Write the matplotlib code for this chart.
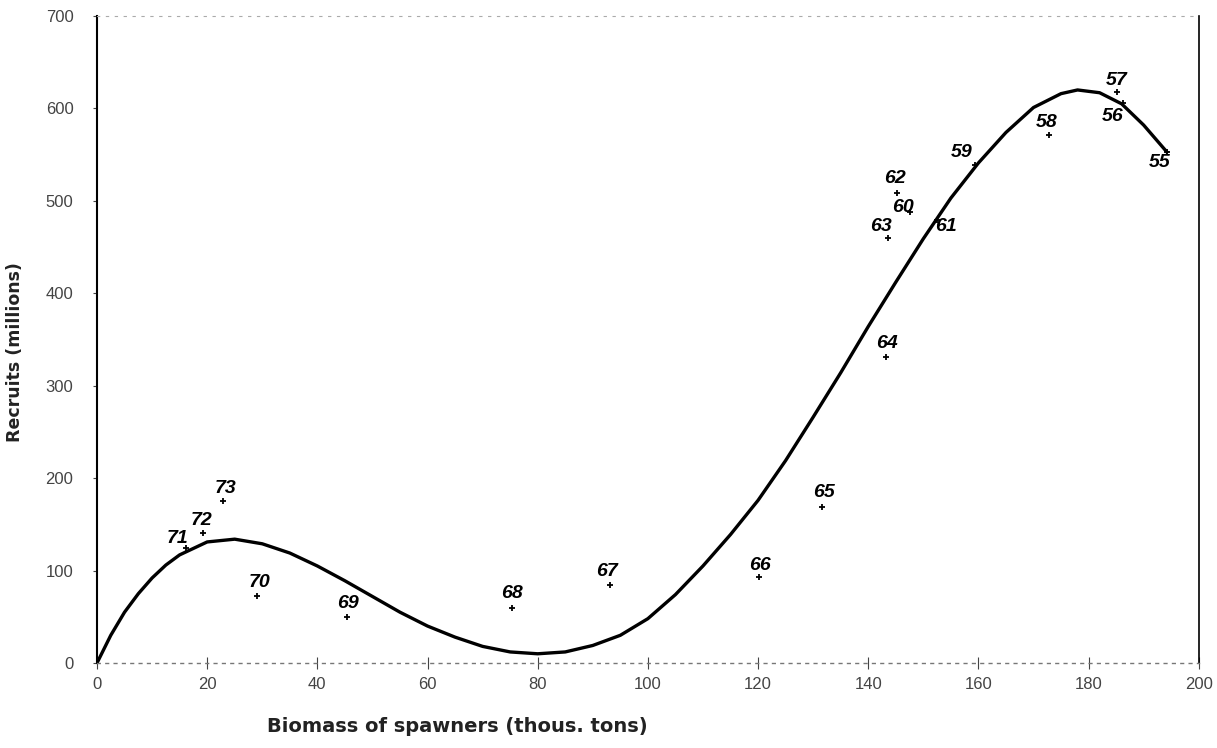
import matplotlib
matplotlib.use('Agg')
import matplotlib.pyplot as plt
import numpy as np

plt.rcParams['font.family'] = ['Liberation Sans', 'DejaVu Sans']

# 观测点：年份、亲体生物量、补充量
years = ['55', '56', '57', '58', '59', '60', '61', '62', '63', '64',
         '65', '66', '67', '68', '69', '70', '71', '72', '73']
biomass = [194.2, 186.2, 185.1, 172.8, 159.3, 147.5, 152.4, 145.2, 143.5, 143.2,
           131.6, 120.1, 93.1, 75.3, 45.4, 29.0, 16.2, 19.2, 22.9]
recruits = [553, 606, 618, 571, 539, 488, 479, 509, 460, 331,
            169, 93, 84, 60, 50, 73, 124, 141, 175]

# 手绘拟合曲线
curve_x = [0, 2.5, 5, 7.5, 10, 12.5, 15, 20, 25, 30, 35, 40, 45, 50, 55, 60, 65, 70, 75, 80,
           85, 90, 95, 100, 105, 110, 115, 120, 125, 130, 135, 140, 145, 150, 155, 160,
           165, 170, 175, 178, 182, 186, 190, 194.2]
curve_y = [0, 30, 55, 75, 92, 106, 117, 131, 134, 129, 119, 105, 89, 72, 55, 40, 28, 18, 12, 10,
           12, 19, 30, 48, 74, 105, 139, 176, 219, 266, 314, 364, 412, 459, 503, 541,
           574, 601, 616, 620, 617, 605, 582, 553]

# 年份标签相对点的偏移（像素）
label_offsets = {'55': (-7, -11), '56': (-10, -14), '57': (0, 11), '58': (-2, 13),
                 '59': (-13, 12), '60': (-7, 4), '61': (9, -6), '62': (-2, 14),
                 '63': (-7, 11), '64': (1, 14), '65': (2, 14), '66': (1, 12),
                 '67': (-3, 14), '68': (0, 14), '69': (1, 13), '70': (3, 13),
                 '71': (-9, 10), '72': (-1, 12), '73': (2, 13)}

fig = plt.figure(figsize=(12.17, 7.48), dpi=100)
ax = fig.add_axes([0.0797, 0.1136, 0.9053, 0.865])

ax.plot(curve_x, curve_y, color='black', linewidth=2.4, solid_joinstyle='round')
ax.scatter(biomass, recruits, marker='+', s=22, color='black', linewidths=1.3, zorder=3)

for yr, bx, ry in zip(years, biomass, recruits):
    dx, dy = label_offsets[yr]
    ax.annotate(yr, (bx, ry), xytext=(dx * 0.72, dy * 0.72), textcoords='offset points',
                ha='center', va='center', fontsize=14, style='italic', fontweight='bold',
                color='black')

ax.set_xlim(0, 200)
ax.set_ylim(0, 700)
ax.set_xticks(np.arange(0, 201, 20))
ax.set_yticks(np.arange(0, 701, 100))
ax.tick_params(axis='x', direction='inout', length=8, colors='#444444', labelsize=12, pad=6)
ax.tick_params(axis='y', direction='out', length=3, colors='#444444', labelsize=12, pad=14)

ax.spines['left'].set_color('black')
ax.spines['left'].set_linewidth(1.5)
ax.spines['right'].set_color('black')
ax.spines['right'].set_linewidth(1.2)
ax.spines['bottom'].set_color('#777777')
ax.spines['bottom'].set_linestyle((0, (2, 4)))
ax.spines['bottom'].set_linewidth(1)
ax.spines['top'].set_color('#aaaaaa')
ax.spines['top'].set_linestyle((0, (2, 6)))
ax.spines['top'].set_linewidth(0.8)

fig.text(457 / 1217, 1 - 727 / 748, 'Biomass of spawners (thous. tons)', ha='center', va='center',
         fontsize=14, fontweight='bold', color='#222222', family='DejaVu Sans')
fig.text(15 / 1217, 1 - 352 / 748, 'Recruits (millions)', ha='center', va='center', rotation=90,
         fontsize=12.5, fontweight='bold', color='#222222', family='DejaVu Sans')

plt.savefig('out.png', dpi=100)
